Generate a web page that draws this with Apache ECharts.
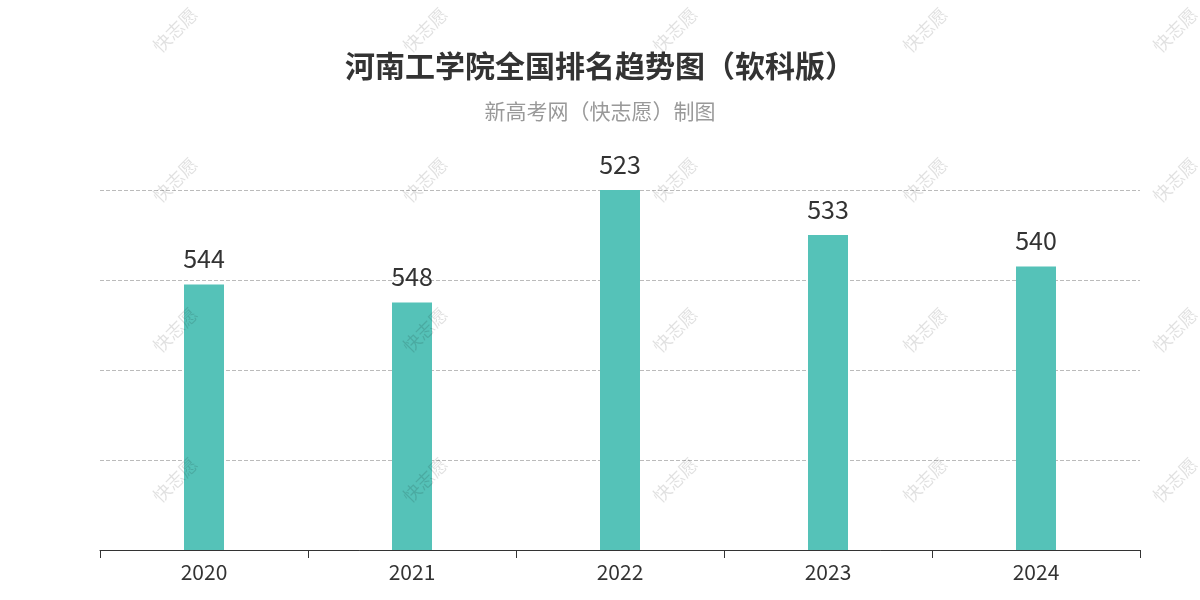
<!DOCTYPE html>
<html><head><meta charset="utf-8">
<script src="https://cdn.jsdelivr.net/npm/echarts@6/dist/echarts.min.js"></script>
<style>html,body{margin:0;padding:0;background:#fff}#c{width:1200px;height:600px}</style>
</head><body><div id="c"></div>
<script>
const years = ['2020','2021','2022','2023','2024'];
const ranks = [544, 548, 523, 533, 540];
const base = 603;
const chart = echarts.init(document.getElementById('c'));
const wm = [];
[175,425,675,925,1175].forEach(x=>[30,180,330,480].forEach(y=>wm.push({
  type:'text', x:x, y:y, rotation:Math.PI/4, z:100,
  style:{text:'快志愿', fill:'rgba(0,0,0,0.12)', font:'18px "Noto Sans CJK SC"', align:'center', verticalAlign:'middle'}
})));
chart.setOption({
  animation:false,
  textStyle:{fontFamily:'"Noto Sans CJK SC"'},
  title:{text:'河南工学院全国排名趋势图（软科版）', subtext:'新高考网（快志愿）制图', left:'center', top:46,
    textStyle:{fontSize:30,fontWeight:'bold',color:'#333',fontFamily:'Noto Sans CJK SC'},
    subtextStyle:{fontSize:21,color:'#999',fontFamily:'Noto Sans CJK SC'}, itemGap:20},
  grid:{left:100,right:60,top:190,bottom:50},
  xAxis:{type:'category',data:years,axisLine:{lineStyle:{color:'#333'}},axisTick:{show:true,length:8,lineStyle:{color:'#333'}},
    axisLabel:{fontSize:21,color:'#333',margin:12}},
  yAxis:{type:'value',min:0,max:80,interval:20,axisLabel:{show:false},axisLine:{show:false},axisTick:{show:false},
    splitLine:{lineStyle:{type:'dashed',color:'#bbb'}}},
  series:[{type:'bar',barWidth:40,itemStyle:{color:'#55c2b8'},
    data:ranks.map(v=>({value:base-v,rank:v})),
    label:{show:true,position:'top',distance:13,fontSize:25,color:'#333',formatter:p=>p.data.rank}}],
  graphic:wm
});
</script></body></html>
